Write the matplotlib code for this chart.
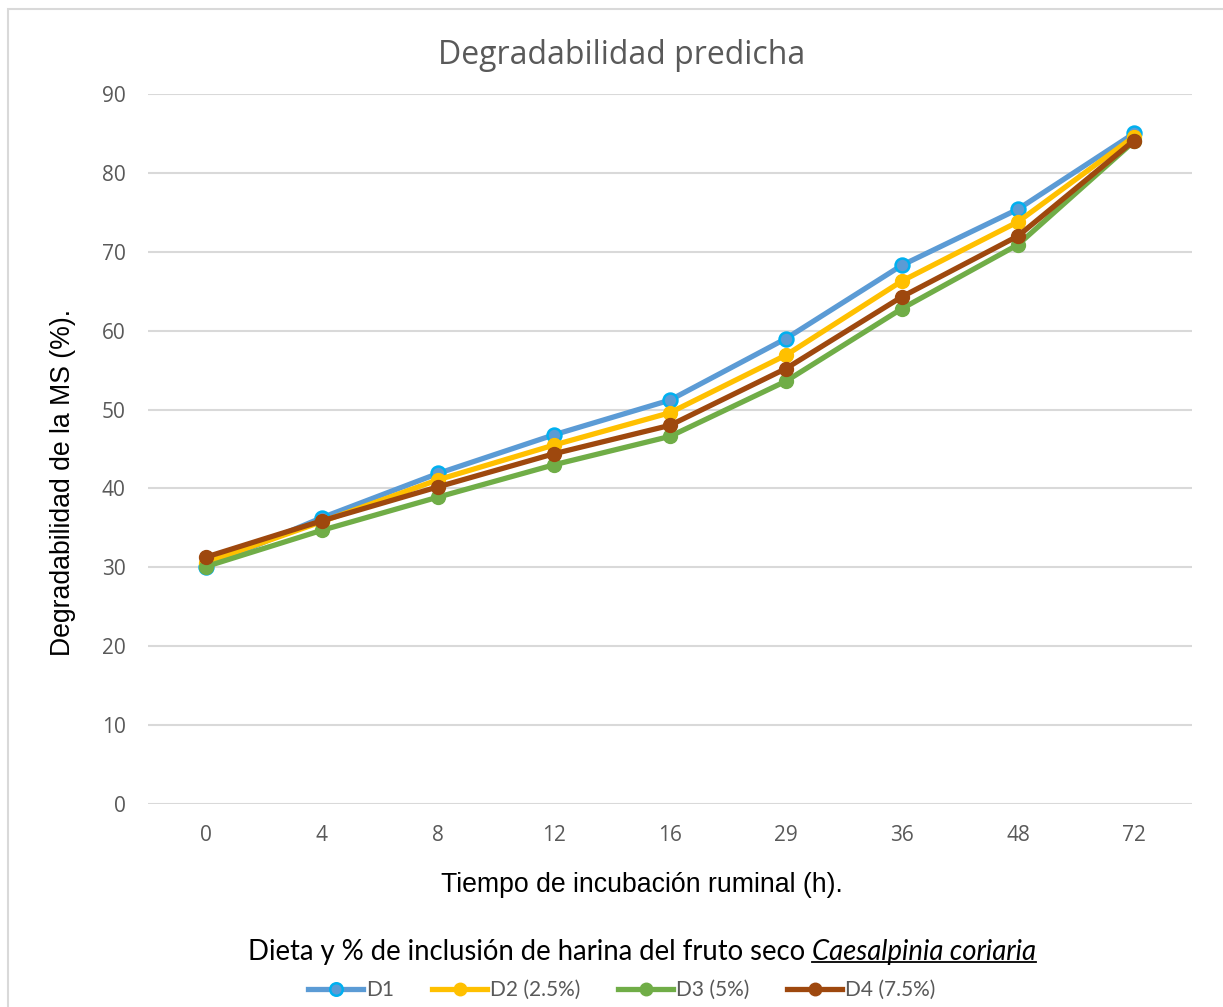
import matplotlib
matplotlib.use("Agg")
import matplotlib.pyplot as plt
from matplotlib.lines import Line2D
from matplotlib.patches import Rectangle

# data
tiempos = ["0", "4", "8", "12", "16", "29", "36", "48", "72"]
d1 = [30.1, 36.3, 41.9, 46.8, 51.2, 59.0, 68.3, 75.4, 85.0]
d2 = [30.6, 35.8, 41.1, 45.5, 49.6, 56.9, 66.3, 73.8, 84.6]
d3 = [30.1, 34.7, 38.9, 43.0, 46.6, 53.6, 62.8, 70.9, 84.0]
d4 = [31.3, 35.9, 40.2, 44.4, 48.0, 55.2, 64.3, 72.0, 84.1]
etiquetas = ["D1", "D2 (2.5%)", "D3 (5%)", "D4 (7.5%)"]

W, H = 1223, 1007
fig = plt.figure(figsize=(W / 100, H / 100), dpi=100)
fig.patch.set_facecolor("white")

# chart-area border (only left/top visible in the reference)
fig.add_artist(Rectangle((8 / W, -0.1), 1.2, 1.1 - 9 / H, transform=fig.transFigure,
                         fill=False, edgecolor="#D9D9D9", lw=1.5))

ax = fig.add_axes([148 / W, (H - 804) / H, (1192 - 148) / W, (804 - 94) / H])

x = list(range(len(tiempos)))
ax.plot(x, d1, color="#5B9BD5", lw=3.8, marker="o", ms=10,
        mfc="#5B9BD5", mec="#00B0F0", mew=1.8, label=etiquetas[0])
ax.plot(x, d2, color="#FFC000", lw=3.8, marker="o", ms=10,
        mfc="#FFC000", mec="#FFC000", label=etiquetas[1])
ax.plot(x, d3, color="#70AD47", lw=3.8, marker="o", ms=10,
        mfc="#70AD47", mec="#70AD47", label=etiquetas[2])
ax.plot(x, d4, color="#9E480E", lw=3.8, marker="o", ms=10,
        mfc="#9E480E", mec="#9E480E", label=etiquetas[3])

ax.set_xlim(-0.5, len(tiempos) - 0.5)
ax.set_ylim(0, 90)
ax.set_yticks(range(0, 91, 10))
ax.set_xticks(x)
ax.set_xticklabels(tiempos)
for s in ax.spines.values():
    s.set_visible(False)
ax.grid(axis="y", color="#D9D9D9", lw=1.5)
ax.set_axisbelow(True)
ax.tick_params(length=0, labelcolor="#595959", labelsize=15)
ax.tick_params(axis="x", pad=15)
ax.tick_params(axis="y", pad=16)
for lab in ax.get_xticklabels() + ax.get_yticklabels():
    lab.set_fontfamily("Open Sans")

# axis titles placed where they sit in the reference
fig.text(63 / W, 1 - 482 / H, "Degradabilidad de la MS (%).", rotation=90,
         ha="center", va="center", fontsize=19.2, family="Liberation Sans", color="black")
fig.text(642 / W, 1 - 885 / H, "Tiempo de incubación ruminal (h).",
         ha="center", va="center", fontsize=19.2, family="Liberation Sans", color="black")

fig.text(622 / W, 1 - 56 / H, "Degradabilidad predicha", ha="center", va="center",
         fontsize=23, family="Open Sans", color="#595959")

# legend title with italic underlined species name
y_t = 1 - 952 / H
t1 = fig.text(248 / W, y_t, "Dieta y % de inclusión de harina del fruto seco ",
              ha="left", va="center", fontsize=19.8, family="Lato", color="black")
fig.canvas.draw()
r = fig.canvas.get_renderer()
bb = t1.get_window_extent(r)
t2 = fig.text(bb.x1 / W, y_t, "Caesalpinia coriaria", ha="left", va="center",
              fontsize=19.8, family="Lato", style="italic", color="black")
bb2 = t2.get_window_extent(r)
yu = (bb2.y0 + 3) / H
fig.add_artist(Line2D([bb2.x0 / W, bb2.x1 / W], [yu, yu], transform=fig.transFigure,
                      color="black", lw=1.3))

leg = fig.legend(loc="center", bbox_to_anchor=(622 / W, 1 - 990 / H), ncol=4,
                 frameon=False, handlelength=2.64, columnspacing=1.8, handletextpad=0.15,
                 prop={"family": "Lato", "size": 15}, markerscale=0.9)
for t in leg.get_texts():
    t.set_color("#595959")

fig.savefig("out.png", dpi=100)
